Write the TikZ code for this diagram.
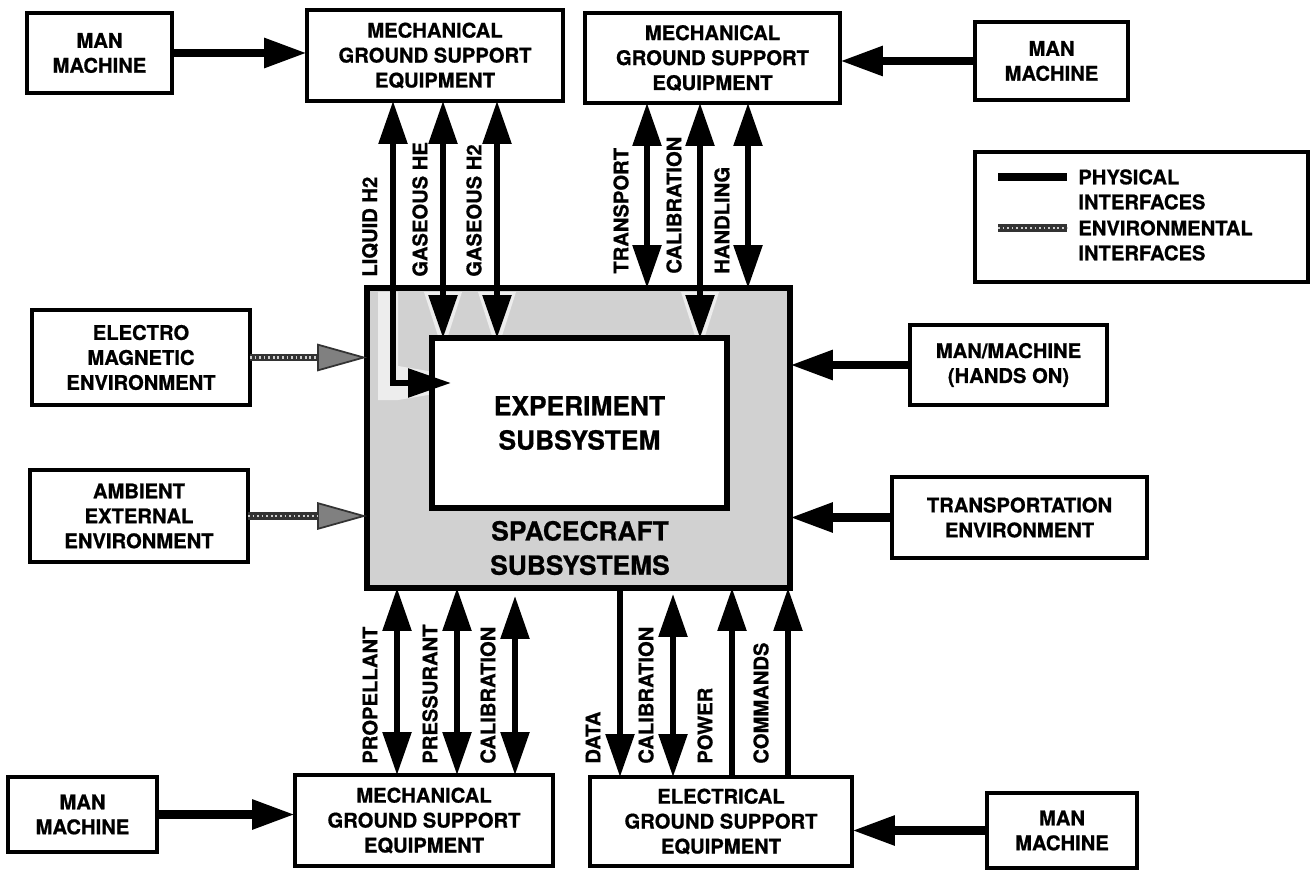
\documentclass[tikz,border=0pt]{standalone}
\usepackage{fontspec}
\setmainfont{TeX Gyre Heros}[BoldFeatures={FakeBold=0.8}]
\usetikzlibrary{arrows.meta}
\newcommand\boxfont{\bfseries\fontsize{11.5}{14.2}\selectfont}
\newcommand\sysfont{\bfseries\fontsize{15}{19.5}\selectfont}
\tikzset{
  box/.style={draw, line width=2.4pt, fill=white, inner sep=0pt, outer sep=0pt, align=center, font=\boxfont},
  phys/.style={line width=3.2pt},
  heavy/.style={line width=5pt},
  envline/.style={draw=black!80, line width=4.5pt, -{Triangle[length=1cm,width=0.55cm,fill=black!50,line width=1pt]}},
  envdots/.style={draw=white!80!black, line width=1.2pt, dash pattern=on 1pt off 1.6pt},
  vlabel/.style={rotate=90, anchor=west, inner sep=0pt, font=\boxfont},
  halo/.style={fill=black!7},
}
\begin{document}
\begin{tikzpicture}[x=0.02cm, y=-0.02cm, >={Triangle[length=0.86cm,width=0.56cm]}]
    \useasboundingbox (0,0) rectangle (1314,871);

    % spacecraft and experiment
    \node[draw, line width=3.2pt, fill=black!18, inner sep=0pt, outer sep=0pt,
          minimum width=8.46cm, minimum height=6cm] (outer) at (578.5,438) {};
    % lighter patches round the tips inside the shading
    \foreach \x in {443,497,700}
        \fill[halo] (\x-19,292) -- (\x+19,292) -- (\x+5,336) -- (\x-5,336) -- cycle;
    \fill[halo] (378,292) -- (398,292) -- (398,366) -- (434,372) -- (434,394)
        -- (398,400) -- (378,400) -- cycle;
    \node[box, line width=3.2pt, font=\sysfont, minimum width=5.9cm, minimum height=3.4cm] (inner) at (579.5,423) {EXPERIMENT\\SUBSYSTEM};
    \node[font=\sysfont, align=center, inner sep=0pt] (scText) at (580,548) {SPACECRAFT\\SUBSYSTEMS};

    % top row
    \node[box, minimum width=2.9cm, minimum height=1.6cm] (mmTL) at (99.5,53) {MAN\\MACHINE};
    \node[box, minimum width=5.12cm, minimum height=1.82cm] (mgseTL) at (435,55.5) {MECHANICAL\\GROUND SUPPORT\\EQUIPMENT};
    \node[box, minimum width=5.1cm, minimum height=1.8cm] (mgseTR) at (712.5,58) {MECHANICAL\\GROUND SUPPORT\\EQUIPMENT};
    \node[box, minimum width=3.06cm, minimum height=1.56cm] (mmTR) at (1051.5,61) {MAN\\MACHINE};

    % sides
    \node[box, minimum width=4.36cm, minimum height=1.9cm] (electro) at (141,357.5) {ELECTRO\\MAGNETIC\\ENVIRONMENT};
    \node[box, minimum width=4.36cm, minimum height=1.84cm] (ambient) at (139,516) {AMBIENT\\EXTERNAL\\ENVIRONMENT};
    \node[box, minimum width=3.94cm, minimum height=1.6cm] (hands) at (1008.5,365) {MAN/MACHINE\\(HANDS ON)};
    \node[box, minimum width=5.1cm, minimum height=1.62cm] (transp) at (1019.5,517.5) {TRANSPORTATION\\ENVIRONMENT};

    % bottom row
    \node[box, minimum width=2.98cm, minimum height=1.5cm] (mmBL) at (82.5,814.5) {MAN\\MACHINE};
    \node[box, minimum width=5.16cm, minimum height=1.82cm] (mgseB) at (424,820.5) {MECHANICAL\\GROUND SUPPORT\\EQUIPMENT};
    \node[box, minimum width=5.24cm, minimum height=1.78cm] (egse) at (721,821.5) {ELECTRICAL\\GROUND SUPPORT\\EQUIPMENT};
    \node[box, minimum width=3cm, minimum height=1.5cm] (mmBR) at (1062,830.5) {MAN\\MACHINE};

    % legend
    \node[box, minimum width=6.66cm, minimum height=2.6cm] (legend) at (1141.5,217) {};
    \node[anchor=north west, align=left, inner sep=0pt, font=\boxfont] (physTxt) at (1078,169) {PHYSICAL\\INTERFACES};
    \node[anchor=north west, align=left, inner sep=0pt, font=\boxfont] (envTxt) at (1078,220) {ENVIRONMENTAL\\INTERFACES};
    \draw[line width=4pt] (998,177) -- (1067,177);
    \draw[draw=black!80, line width=4.5pt] (998,228) -- (1067,228);
    \draw[envdots] (998,228) -- (1067,228);

    % man/machine inputs
    \draw[heavy, ->] (mmTL.east) -- (mmTL.east -| mgseTL.west);
    \draw[heavy, ->] (mmTR.west) -- (mmTR.west -| mgseTR.east);
    \draw[heavy, ->] (hands.west) -- (hands.west -| outer.east);
    \draw[heavy, ->] (transp.west) -- (transp.west -| outer.east);
    \draw[heavy, ->] (mmBL.east) -- (mmBL.east -| mgseB.west);
    \draw[heavy, ->] (mmBR.west) -- (mmBR.west -| egse.east);

    % environments
    \foreach \env in {electro, ambient} {
        \draw[envline] (\env.east) -- (\env.east -| outer.west);
        \draw[envdots, shorten >=1cm] (\env.east) -- (\env.east -| outer.west);
    }

    % fluids from the top left
    \coordinate (lh2) at (451,383);
    \draw[phys, <->] (393,0 |- mgseTL.south) |- (lh2);
    \foreach \x in {443,497}
        \draw[phys, <->] (\x,0 |- mgseTL.south) -- (\x,0 |- inner.north);
    \foreach \x/\txt in {393/LIQUID H2, 443/GASEOUS HE, 497/GASEOUS H2}
        \node[vlabel] (lblT\x) at (\x-23,277) {\txt};

    % handling from the top right
    \draw[phys, <->] (647,0 |- mgseTR.south) -- (647,0 |- outer.north);
    \draw[phys, <->] (700,0 |- mgseTR.south) -- (700,0 |- inner.north);
    \draw[phys, <->] (748,0 |- mgseTR.south) -- (748,0 |- outer.north);
    \foreach \x/\txt in {647/TRANSPORT, 700/CALIBRATION, 748/HANDLING}
        \node[vlabel] (lblT\x) at (\x-26,274) {\txt};

    % bottom links
    \foreach \x in {397,457}
        \draw[phys, <->] (\x,0 |- outer.south) -- (\x,0 |- mgseB.north);
    \draw[phys, <->, shorten <=0.16cm] (515,0 |- outer.south) -- (515,0 |- mgseB.north);
    \draw[phys, ->] (620,0 |- outer.south) -- (620,0 |- egse.north);
    \draw[phys, <->, shorten <=0.12cm] (673,0 |- outer.south) -- (673,0 |- egse.north);
    \foreach \x in {732,788}
        \draw[phys, ->] (\x,0 |- egse.north) -- (\x,0 |- outer.south);
    \foreach \x/\txt in {397/PROPELLANT, 457/PRESSURANT, 515/CALIBRATION, 620/DATA, 673/CALIBRATION, 732/POWER, 788/COMMANDS}
        \node[vlabel] (lblB\x) at (\x-27,764) {\txt};

\end{tikzpicture}
\end{document}
